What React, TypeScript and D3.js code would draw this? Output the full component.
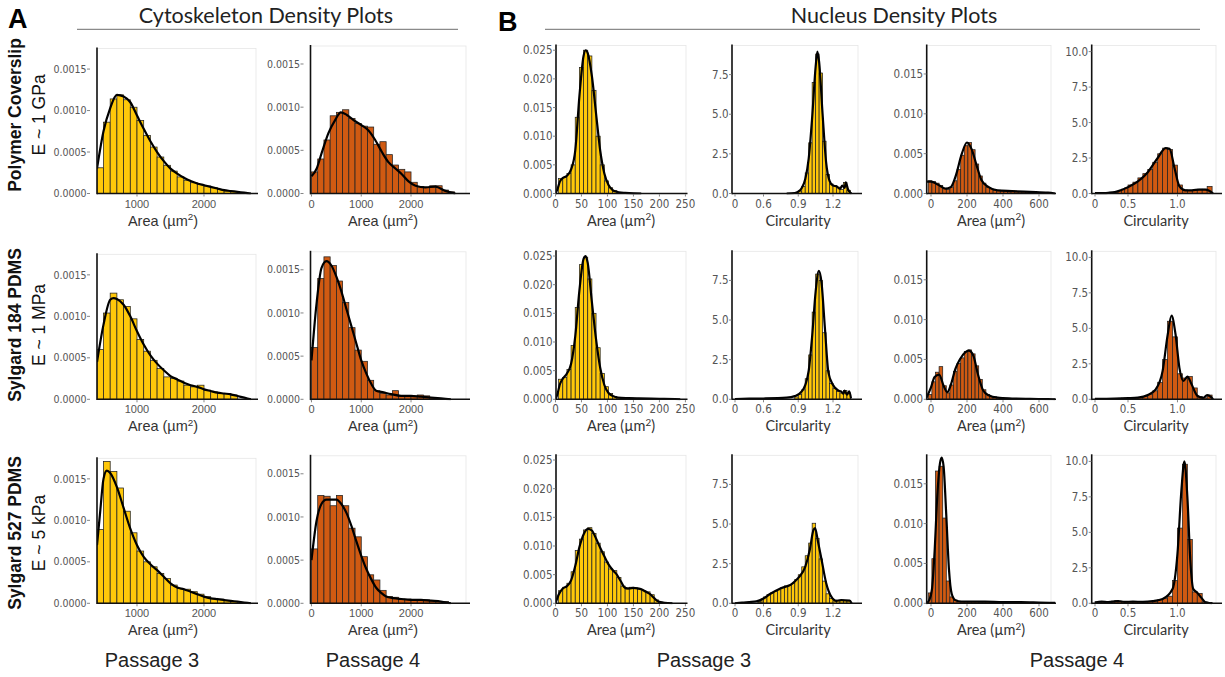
import React from "react";
import * as d3 from "d3";

// ---------- colours / fonts ----------
const YELLOW = "#FFC80A";
const ORANGE = "#D05A12";
const NARROW = "'Liberation Sans Narrow', 'DejaVu Sans Condensed', 'Liberation Sans', sans-serif";
const SANS = "'Liberation Sans', Arial, sans-serif";
const HUMAN = "Lato, 'Open Sans', sans-serif";

// ---------- labels ----------
const rowLabels = ["Polymer Coverslip", "Sylgard 184 PDMS", "Sylgard 527 PDMS"];
const rowModuli = ["E ~ 1 GPa", "E ~ 1 MPa", "E ~ 5 kPa"];
const passageLabels = ["Passage 3", "Passage 4", "Passage 3", "Passage 4"];

// ---------- tick values ----------
const cytoYTicks = [0, 0.0005, 0.001, 0.0015];
const cytoP3XTicks = [1000, 2000];
const cytoP4XTicks = [0, 1000, 2000];
const nucAreaP3YTicks = [0, 0.005, 0.01, 0.015, 0.02, 0.025];
const nucAreaP3XTicks = [0, 50, 100, 150, 200, 250];
const circP3YTicks = [0, 2.5, 5, 7.5];
const circP3XTicks = [0, 0.6, 0.9, 1.2];
const nucAreaP4YTicks = [0, 0.005, 0.01, 0.015];
const nucAreaP4XTicks = [0, 200, 400, 600];
const circP4YTicks = [0, 2.5, 5, 7.5, 10];
const circP4XTicks = [0, 0.5, 1.0];

// ---------- histogram bins ----------
const cytoP3BinStart = [400, 400, 400];
const cytoP3BinWidth = 100;
const cytoP4BinStart = [0, 0, 0];
const cytoP4BinWidth = 125;
const nucAreaP3BinStart = [6, 6, 6];
const nucAreaP3BinWidth = 8;
const circP3BinStart = [0.87, 0.87, 0.48];
const circP3BinWidth = 0.03;
const nucAreaP4BinStart = [-15, -15, -15];
const nucAreaP4BinWidth = 20;
const circP4BinStart = [0.2, 0, 0];
const circP4BinWidth = 0.05;

// ---------- Cytoskeleton area, passage 3 ----------
const cytoP3Row1 = [0.00031, 0.00086, 0.00114, 0.00119, 0.00113, 0.00104, 0.00088, 0.0007, 0.00056, 0.00044, 0.00034, 0.00027, 0.0002, 0.00016, 0.00013, 0.00011, 0.00009, 0.00007, 0.00005, 0.00003, 0.00002];
const cytoP3Row2 = [0.0006, 0.00104, 0.00128, 0.0012, 0.00112, 0.00097, 0.00072, 0.00058, 0.00047, 0.00037, 0.00027, 0.00025, 0.00022, 0.00017, 0.00015, 0.00017, 0.00011, 0.00009, 0.00007, 0.00007, 0.00005];
const cytoP3Row3 = [0.00089, 0.00171, 0.00159, 0.00139, 0.00111, 0.00085, 0.00063, 0.0005, 0.00044, 0.00036, 0.0003, 0.00022, 0.00018, 0.00017, 0.00014, 0.00011, 0.00008, 0.00006, 0.00005, 0.00003, 0.00002];
const cytoP3Dens1: [number, number][] = [[403, 0.0003], [500, 0.00075], [600, 0.00103], [700, 0.00119], [800, 0.00117], [900, 0.0011], [1000, 0.00094], [1100, 0.00078], [1200, 0.00063], [1300, 0.0005], [1400, 0.00039], [1500, 0.0003], [1600, 0.00024], [1700, 0.00019], [1800, 0.00015], [1900, 0.00012], [2000, 0.0001], [2100, 0.00008], [2200, 0.00006], [2300, 0.00004], [2400, 0.00003], [2500, 0.00002], [2600, 0.00001], [2700, 0]];
const cytoP3Dens2: [number, number][] = [[403, 0.00045], [500, 0.0009], [600, 0.0012], [650, 0.00122], [700, 0.00121], [800, 0.00114], [900, 0.001], [1000, 0.00082], [1100, 0.00066], [1200, 0.00053], [1300, 0.00043], [1400, 0.00035], [1500, 0.00028], [1600, 0.00024], [1700, 0.0002], [1800, 0.00017], [1900, 0.00015], [2000, 0.00012], [2100, 0.0001], [2200, 0.00008], [2300, 0.00007], [2400, 0.00006], [2500, 0.00004], [2600, 0.00002], [2700, 0]];
const cytoP3Dens3: [number, number][] = [[403, 0.0007], [450, 0.0011], [500, 0.0015], [550, 0.0016], [600, 0.00157], [700, 0.0014], [800, 0.00115], [900, 0.0009], [1000, 0.0007], [1100, 0.00056], [1200, 0.00047], [1300, 0.0004], [1400, 0.00032], [1500, 0.00024], [1600, 0.00019], [1700, 0.00017], [1800, 0.00014], [1900, 0.00011], [2000, 0.00008], [2100, 0.00006], [2200, 0.00005], [2300, 0.00004], [2400, 0.00003], [2500, 0.00002], [2600, 0.00001], [2700, 0]];

// ---------- Cytoskeleton area, passage 4 ----------
const cytoP4Row1 = [0.00025, 0.0004, 0.00062, 0.0009, 0.00094, 0.00097, 0.00087, 0.00081, 0.00078, 0.00077, 0.00057, 0.0006, 0.00045, 0.00033, 0.00028, 0.00025, 0.00013, 0.00008, 0.00007, 0.00009, 0.00009, 0.00004, 0.00002];
const cytoP4Row2 = [0.0006, 0.0014, 0.00165, 0.00155, 0.00137, 0.00112, 0.00083, 0.00057, 0.00044, 0.00022, 0.0001, 0.00007, 0.00005, 0.0001, 0.00004, 0.00003, 0.00003, 0.00005, 0.00004, 0.00002, 0.00001];
const cytoP4Row3 = [0.00063, 0.00125, 0.00124, 0.00113, 0.00125, 0.00113, 0.00087, 0.00077, 0.00054, 0.00033, 0.00027, 0.00015, 0.00008, 0.00007, 0.00005, 0.00005, 0.00004, 0.00004, 0.00004, 0.00003, 0.00002, 0.00002];
const cytoP4Dens1: [number, number][] = [[0, 0.0002], [105, 0.00029], [205, 0.00047], [340, 0.0007], [475, 0.00085], [590, 0.00094], [710, 0.00091], [845, 0.00085], [1010, 0.00079], [1145, 0.00073], [1280, 0.00062], [1415, 0.00048], [1550, 0.00036], [1685, 0.00029], [1820, 0.00022], [1950, 0.00014], [2090, 0.00009], [2290, 0.00007], [2490, 0.00008], [2690, 0.00003], [2890, 0]];
const cytoP4Dens2: [number, number][] = [[0, 0.00045], [100, 0.0011], [200, 0.00152], [300, 0.0016], [400, 0.00155], [500, 0.00142], [600, 0.00125], [700, 0.00105], [800, 0.00085], [900, 0.00065], [1000, 0.00045], [1100, 0.0003], [1200, 0.00018], [1300, 0.0001], [1450, 0.00008], [1600, 0.00006], [1800, 0.00004], [2000, 0.00004], [2200, 0.00003], [2400, 0.00002], [2600, 0.00001], [2800, 0]];
const cytoP4Dens3: [number, number][] = [[0, 0.0005], [100, 0.00095], [200, 0.00115], [300, 0.0012], [400, 0.0012], [500, 0.0012], [600, 0.00115], [700, 0.00105], [800, 0.0009], [900, 0.00072], [1000, 0.00055], [1100, 0.0004], [1200, 0.00028], [1300, 0.00018], [1400, 0.00012], [1500, 0.00008], [1650, 0.00006], [1800, 0.00005], [2000, 0.00004], [2200, 0.00004], [2400, 0.00003], [2600, 0.00002], [2800, 0]];

// ---------- Nucleus area, passage 3 ----------
const nucAreaP3Row1 = [0.0026, 0.0028, 0.0035, 0.005, 0.0133, 0.022, 0.025, 0.024, 0.018, 0.01, 0.005, 0.0022, 0.001, 0.0005, 0.0002, 0.0001];
const nucAreaP3Row2 = [0.0035, 0.0038, 0.0052, 0.0094, 0.016, 0.0235, 0.0248, 0.021, 0.015, 0.009, 0.0045, 0.0022, 0.001, 0.0005, 0.0003, 0.0002, 0.0002, 0.0002, 0.00015, 0.00015, 0.0001, 0.0001, 0.0001, 0.0001, 0.00008, 0.00008, 0.00005, 0.00005];
const nucAreaP3Row3 = [0.0022, 0.0028, 0.0035, 0.0055, 0.0092, 0.0112, 0.0128, 0.0132, 0.0122, 0.0105, 0.009, 0.0072, 0.006, 0.0057, 0.0045, 0.003, 0.0025, 0.0028, 0.0027, 0.0025, 0.0022, 0.002, 0.0015, 0.0006, 0.0002];
const nucAreaP3Dens1: [number, number][] = [[0, 0], [4, 0.0008], [8, 0.002], [14, 0.0027], [22, 0.0031], [30, 0.0042], [38, 0.0075], [46, 0.017], [54, 0.024], [58, 0.025], [62, 0.0245], [70, 0.0205], [78, 0.014], [86, 0.0075], [94, 0.0035], [102, 0.0015], [110, 0.0006], [118, 0.0003], [126, 0.00015], [134, 0.0001], [150, 0.00003], [165, 0]];
const nucAreaP3Dens2: [number, number][] = [[0, 0], [4, 0.001], [8, 0.0025], [14, 0.0036], [22, 0.0045], [30, 0.0062], [38, 0.011], [46, 0.019], [54, 0.0245], [58, 0.025], [62, 0.0238], [70, 0.017], [78, 0.0105], [86, 0.0055], [94, 0.0025], [102, 0.0011], [110, 0.0006], [120, 0.0003], [140, 0.0002], [160, 0.00015], [200, 0.0001], [230, 0.00005], [240, 0]];
const nucAreaP3Dens3: [number, number][] = [[0, 0], [6, 0.0015], [14, 0.0026], [22, 0.003], [30, 0.004], [38, 0.0065], [46, 0.0098], [54, 0.012], [62, 0.013], [70, 0.0127], [78, 0.0113], [86, 0.0097], [94, 0.0082], [102, 0.0068], [110, 0.0058], [118, 0.005], [126, 0.0038], [134, 0.0027], [142, 0.0026], [150, 0.0027], [158, 0.0026], [166, 0.0024], [174, 0.002], [182, 0.0016], [190, 0.0009], [198, 0.0003], [210, 0.0001], [225, 0]];

// ---------- Nucleus circularity, passage 3 ----------
const circP3Row1 = [0.05, 0.15, 0.45, 1.3, 3.2, 7.0, 8.8, 7.6, 3.3, 1.2, 0.6, 0.5, 0.4, 0.25, 0.7, 0.2];
const circP3Row2 = [0.15, 0.3, 0.6, 1.3, 2.8, 5.5, 7.9, 7.5, 4.2, 1.8, 1.0, 0.7, 0.5, 0.4, 0.55, 0.4];
const circP3Row3 = [0.1, 0.15, 0.2, 0.3, 0.4, 0.55, 0.65, 0.75, 0.85, 1.0, 1.1, 1.15, 1.25, 1.5, 1.8, 2.3, 3.0, 3.8, 5.05, 4.1, 2.8, 1.4, 0.6, 0.3, 0.15, 0.2, 0.2, 0.18, 0.18];
const circP3Dens1: [number, number][] = [[0.8, 0], [0.87, 0.03], [0.9, 0.12], [0.93, 0.35], [0.96, 0.9], [0.99, 2.2], [1.02, 4.8], [1.05, 8.0], [1.065, 8.95], [1.08, 8.3], [1.11, 5.0], [1.14, 2.0], [1.17, 0.8], [1.2, 0.5], [1.23, 0.45], [1.26, 0.3], [1.28, 0.5], [1.3, 0.35], [1.31, 0.7], [1.33, 0.25], [1.35, 0.05], [1.36, 0]];
const circP3Dens2: [number, number][] = [[0, 0.02], [0.3, 0.04], [0.6, 0.05], [0.8, 0.1], [0.87, 0.2], [0.93, 0.5], [0.96, 0.9], [0.99, 1.8], [1.02, 4.0], [1.05, 6.8], [1.078, 8.1], [1.1, 7.4], [1.13, 4.5], [1.16, 1.7], [1.2, 0.9], [1.245, 0.55], [1.27, 0.5], [1.29, 0.35], [1.3, 0.55], [1.32, 0.3], [1.34, 0.5], [1.355, 0.05]];
const circP3Dens3: [number, number][] = [[0, 0], [0.15, 0.05], [0.3, 0.08], [0.45, 0.12], [0.6, 0.3], [0.66, 0.6], [0.75, 0.95], [0.84, 1.2], [0.9, 1.6], [0.96, 2.3], [1.0, 3.4], [1.03, 4.6], [1.045, 4.75], [1.07, 3.9], [1.1, 2.8], [1.14, 1.3], [1.185, 0.42], [1.23, 0.15], [1.27, 0.2], [1.345, 0.17], [1.36, 0]];

// ---------- Nucleus area, passage 4 ----------
const nucAreaP4Row1 = [0.0016, 0.0015, 0.0013, 0.001, 0.0006, 0.0005, 0.0008, 0.0016, 0.003, 0.0048, 0.006, 0.0064, 0.0055, 0.0037, 0.0022, 0.0013, 0.0008, 0.0006, 0.0004, 0.0004, 0.0003, 0.0003, 0.0002, 0.0003, 0.0002, 0.0002, 0.0002, 0.0002, 0.00015, 0.0002, 0.0001, 0.0001, 0.00005];
const nucAreaP4Row2 = [0.0006, 0.0022, 0.0034, 0.0041, 0.0017, 0.0008, 0.0018, 0.0035, 0.0045, 0.0052, 0.006, 0.0062, 0.0057, 0.0042, 0.0025, 0.0012, 0.0006, 0.0003, 0.0003, 0.0002, 0.0002, 0.0001, 0.0001, 0.0001, 0.0001, 0.00008, 0.0001, 0.00005, 0.00005, 0.00005, 0.00004, 0.00003, 0.00002];
const nucAreaP4Row3 = [0.0013, 0.0056, 0.0166, 0.0172, 0.0107, 0.0028, 0.0008, 0.0004, 0.0002, 0.0002, 0.0002, 0.0002, 0.0002, 0.0002, 0.00015, 0.00015, 0.0002, 0.00015, 0.0002, 0.00015, 0.00015, 0.0001, 0.00015, 0.0001, 0.0001, 0.0001, 0.0001, 0.0001, 0.00008, 0.0001, 0.00008, 0.00005, 0.00005, 0.00005];
const nucAreaP4Dens1: [number, number][] = [[-25, 0.0015], [0, 0.0015], [40, 0.0011], [80, 0.0006], [110, 0.0008], [140, 0.0024], [170, 0.0049], [200, 0.0064], [225, 0.0056], [255, 0.0034], [280, 0.0017], [320, 0.0008], [370, 0.0004], [450, 0.0003], [550, 0.0002], [650, 0.0001], [690, 0]];
const nucAreaP4Dens2: [number, number][] = [[-25, 0.0002], [0, 0.0015], [20, 0.0028], [45, 0.0031], [70, 0.0017], [90, 0.0009], [110, 0.0018], [135, 0.0038], [160, 0.005], [190, 0.0059], [210, 0.0061], [235, 0.0055], [260, 0.0032], [290, 0.0011], [320, 0.0005], [370, 0.0002], [450, 0.0001], [550, 0.00005], [650, 0.00002], [690, 0]];
const nucAreaP4Dens3: [number, number][] = [[-25, 0], [-10, 0.0004], [5, 0.0017], [20, 0.0065], [35, 0.0135], [50, 0.0176], [59, 0.0183], [70, 0.0172], [85, 0.011], [100, 0.0042], [115, 0.0012], [135, 0.0004], [170, 0.0002], [300, 0.0002], [400, 0.00015], [500, 0.00015], [600, 0.0001], [690, 0.00005]];

// ---------- Nucleus circularity, passage 4 ----------
const circP4Row1 = [0.05, 0.08, 0.12, 0.2, 0.3, 0.4, 0.6, 0.8, 1.1, 1.4, 1.7, 2.2, 2.8, 3.2, 3.1, 2.0, 0.6, 0.25, 0.2, 0.25, 0.3, 0.3, 0.5];
const circP4Row2 = [0.03, 0.03, 0.04, 0.04, 0.05, 0.05, 0.06, 0.07, 0.08, 0.08, 0.1, 0.12, 0.1, 0.2, 0.35, 0.6, 1.2, 2.8, 5.5, 4.4, 1.8, 1.5, 1.6, 0.8, 0.2, 0.1, 0.3];
const circP4Row3 = [0.1, 0.08, 0.1, 0.12, 0.1, 0.15, 0.2, 0.15, 0.1, 0.12, 0.1, 0.1, 0.12, 0.1, 0.12, 0.15, 0.25, 0.35, 0.5, 1.6, 5.3, 9.8, 4.5, 0.8, 0.7, 0.1, 0.05];
const circP4Dens1: [number, number][] = [[0, 0.02], [0.1, 0.03], [0.2, 0.05], [0.3, 0.1], [0.4, 0.25], [0.5, 0.45], [0.6, 0.85], [0.7, 1.5], [0.8, 2.5], [0.88, 3.2], [0.92, 3.15], [0.97, 1.8], [1.02, 0.5], [1.08, 0.22], [1.15, 0.22], [1.22, 0.28], [1.28, 0.27], [1.32, 0.2], [1.36, 0]];
const circP4Dens2: [number, number][] = [[0, 0.03], [0.3, 0.05], [0.5, 0.08], [0.6, 0.12], [0.7, 0.3], [0.78, 0.7], [0.85, 2.0], [0.9, 4.5], [0.94, 5.9], [0.98, 4.6], [1.02, 2.2], [1.06, 1.3], [1.1, 1.6], [1.14, 1.1], [1.2, 0.25], [1.26, 0.1], [1.3, 0.3], [1.34, 0.15], [1.36, 0]];
const circP4Dens3: [number, number][] = [[0, 0.05], [0.1, 0.12], [0.2, 0.08], [0.35, 0.15], [0.45, 0.1], [0.55, 0.12], [0.65, 0.1], [0.75, 0.15], [0.85, 0.3], [0.95, 1.0], [1.0, 3.5], [1.04, 8.0], [1.07, 10.0], [1.1, 7.5], [1.13, 3.0], [1.16, 1.0], [1.2, 0.75], [1.24, 0.4], [1.28, 0.08], [1.32, 0.02], [1.35, 0]];

// ---------- layout ----------
const ROW_BASE = [193.5, 399.3, 603.3];
const ROW_CENTER = [115, 325, 533];

type ColCfg = {
  key: string;
  x0: number; xEnd: number; bgRight: number; height: number;
  xDomain: number[]; xRange: number[];
  yMax: number; yTicks: number[]; yFmt: (d: number) => string;
  xTicks: number[]; xFmt: (d: number) => string;
  title: "area" | "circ"; titleX: number; group: "A" | "B";
  color: string;
  bars: number[][]; binStart: number[]; binWidth: number;
  dens: [number, number][][];
};

const fmtCirc = (d: number) => (d === 0 ? "0" : d.toFixed(1));

const columns: ColCfg[] = [
  {
    key: "cp3", x0: 97, xEnd: 258, bgRight: 256, height: 146,
    xDomain: [403, 2806], xRange: [97, 258],
    yMax: 0.00176, yTicks: cytoYTicks, yFmt: (d) => d.toFixed(4),
    xTicks: cytoP3XTicks, xFmt: (d) => String(d),
    title: "area", titleX: 163, group: "A", color: YELLOW,
    bars: [cytoP3Row1, cytoP3Row2, cytoP3Row3], binStart: cytoP3BinStart, binWidth: cytoP3BinWidth,
    dens: [cytoP3Dens1, cytoP3Dens2, cytoP3Dens3],
  },
  {
    key: "cp4", x0: 310.5, xEnd: 470, bgRight: 466, height: 148.5,
    xDomain: [-20, 3185], xRange: [310.5, 470],
    yMax: 0.00172, yTicks: cytoYTicks, yFmt: (d) => d.toFixed(4),
    xTicks: cytoP4XTicks, xFmt: (d) => String(d),
    title: "area", titleX: 383, group: "A", color: ORANGE,
    bars: [cytoP4Row1, cytoP4Row2, cytoP4Row3], binStart: cytoP4BinStart, binWidth: cytoP4BinWidth,
    dens: [cytoP4Dens1, cytoP4Dens2, cytoP4Dens3],
  },
  {
    key: "na3", x0: 556, xEnd: 687.5, bgRight: 686, height: 149,
    xDomain: [0, 254], xRange: [555.5, 687.5],
    yMax: 0.026, yTicks: nucAreaP3YTicks, yFmt: (d) => d.toFixed(3),
    xTicks: nucAreaP3XTicks, xFmt: (d) => String(d),
    title: "area", titleX: 621, group: "B", color: YELLOW,
    bars: [nucAreaP3Row1, nucAreaP3Row2, nucAreaP3Row3], binStart: nucAreaP3BinStart, binWidth: nucAreaP3BinWidth,
    dens: [nucAreaP3Dens1, nucAreaP3Dens2, nucAreaP3Dens3],
  },
  {
    key: "ci3", x0: 732, xEnd: 862, bgRight: 858, height: 149,
    xDomain: [0, 0.6, 1.45], xRange: [735, 763.5, 862],
    yMax: 9.4, yTicks: circP3YTicks, yFmt: (d) => d.toFixed(1),
    xTicks: circP3XTicks, xFmt: fmtCirc,
    title: "circ", titleX: 798, group: "B", color: YELLOW,
    bars: [circP3Row1, circP3Row2, circP3Row3], binStart: circP3BinStart, binWidth: circP3BinWidth,
    dens: [circP3Dens1, circP3Dens2, circP3Dens3],
  },
  {
    key: "na4", x0: 926.7, xEnd: 1056, bgRight: 1051, height: 149,
    xDomain: [0, 600], xRange: [931, 1039],
    yMax: 0.0187, yTicks: nucAreaP4YTicks, yFmt: (d) => d.toFixed(3),
    xTicks: nucAreaP4XTicks, xFmt: (d) => String(d),
    title: "area", titleX: 991, group: "B", color: ORANGE,
    bars: [nucAreaP4Row1, nucAreaP4Row2, nucAreaP4Row3], binStart: nucAreaP4BinStart, binWidth: nucAreaP4BinWidth,
    dens: [nucAreaP4Dens1, nucAreaP4Dens2, nucAreaP4Dens3],
  },
  {
    key: "ci4", x0: 1091.7, xEnd: 1222, bgRight: 1216, height: 149,
    xDomain: [0, 0.5, 1.45], xRange: [1095, 1128, 1222],
    yMax: 10.5, yTicks: circP4YTicks, yFmt: (d) => d.toFixed(1),
    xTicks: circP4XTicks, xFmt: fmtCirc,
    title: "circ", titleX: 1156, group: "B", color: ORANGE,
    bars: [circP4Row1, circP4Row2, circP4Row3], binStart: circP4BinStart, binWidth: circP4BinWidth,
    dens: [circP4Dens1, circP4Dens2, circP4Dens3],
  },
];

function AxisTitle({ cfg, base }: { cfg: ColCfg; base: number }) {
  const isA = cfg.group === "A";
  const fs = isA ? 14.5 : 14.5;
  const family = isA ? SANS : HUMAN;
  const yb = base + 32;
  if (cfg.title === "circ") {
    return (
      <text x={cfg.titleX} y={yb} textAnchor="middle" fontFamily={family} fontSize={fs} fill="#333">
        Circularity
      </text>
    );
  }
  return (
    <text x={cfg.titleX} y={yb} textAnchor="middle" fontFamily={family} fontSize={fs} fill="#333">
      Area (µm
      <tspan fontSize={fs * 0.68} dy={-5.5}>2</tspan>
      <tspan dy={5.5}>)</tspan>
    </text>
  );
}

function Panel({ cfg, row }: { cfg: ColCfg; row: number }) {
  const base = ROW_BASE[row];
  const top = base - cfg.height;
  const x = d3.scaleLinear().domain(cfg.xDomain).range(cfg.xRange);
  const y = d3.scaleLinear().domain([0, cfg.yMax]).range([base, top]);
  const bars = cfg.bars[row];
  const start = cfg.binStart[row];
  const w = cfg.binWidth;
  const line = d3
    .line<[number, number]>()
    .x((d) => x(d[0]))
    .y((d) => y(d[1]))
    .curve(d3.curveMonotoneX);
  const clipId = `clip-${cfg.key}-${row}`;
  const isA = cfg.group === "A";
  const yTickOff = isA ? 7 : 0;
  const yFont = isA ? 10.5 : 11.5;
  const xFamily = isA ? SANS : NARROW;
  const xFont = isA ? 11 : 11.5;

  return (
    <g>
      <defs>
        <clipPath id={clipId}>
          <rect x={cfg.x0} y={top - 2} width={cfg.xEnd - cfg.x0} height={cfg.height + 3} />
        </clipPath>
      </defs>
      <rect
        x={cfg.x0}
        y={top + 1}
        width={cfg.bgRight - cfg.x0}
        height={base - top - 1}
        fill="#fff"
        stroke="#e6e6e6"
        strokeWidth={0.8}
      />
      <g clipPath={`url(#${clipId})`}>
        {bars.map((v, i) => {
          const a = Math.max(x(start + i * w), cfg.x0);
          const b = Math.min(x(start + (i + 1) * w), cfg.xEnd);
          if (b <= a) return null;
          return (
            <rect
              key={i}
              x={a}
              y={y(v)}
              width={b - a}
              height={base - y(v)}
              fill={cfg.color}
              stroke="#222"
              strokeWidth={0.75}
            />
          );
        })}
        <path d={line(cfg.dens[row]) || ""} fill="none" stroke="#000" strokeWidth={2.2} strokeLinejoin="round" />
      </g>
      <line x1={cfg.x0} x2={cfg.x0} y1={top} y2={base + 0.8} stroke="#111" strokeWidth={1.6} />
      {cfg.yTicks.map((t) => (
        <g key={`y${t}`}>
          <line x1={cfg.x0 - yTickOff - 3} x2={cfg.x0 - yTickOff} y1={y(t)} y2={y(t)} stroke="#666" strokeWidth={0.8} />
          <text
            x={cfg.x0 - yTickOff - 3.5}
            y={y(t)}
            dy="0.35em"
            textAnchor="end"
            fontFamily={NARROW}
            fontSize={yFont}
            fill="#555"
          >
            {cfg.yFmt(t)}
          </text>
        </g>
      ))}
      <line x1={cfg.x0} x2={cfg.xEnd} y1={base} y2={base} stroke="#111" strokeWidth={1.6} />
      {cfg.xTicks.map((t) => (
        <g key={`x${t}`}>
          <line x1={x(t)} x2={x(t)} y1={base + 0.8} y2={base + 3} stroke="#666" strokeWidth={0.8} />
          <text x={x(t)} y={base + 14} textAnchor="middle" fontFamily={xFamily} fontSize={xFont} fill="#555">
            {cfg.xFmt(t)}
          </text>
        </g>
      ))}
      <AxisTitle cfg={cfg} base={base} />
    </g>
  );
}

export default function App() {
  const passageX = [152, 373, 704, 1077];
  return (
    <svg
      width={1225}
      height={677}
      viewBox="0 0 1225 677"
      style={{ position: "absolute", left: 0, top: 0, background: "#fff" }}
    >
      <rect x={0} y={0} width={1225} height={677} fill="#fff" />
      <text x={8} y={28} fontFamily={SANS} fontWeight="bold" fontSize={27} fill="#000">A</text>
      <text x={498} y={31} fontFamily={SANS} fontWeight="bold" fontSize={27} fill="#000">B</text>
      <text x={266} y={22.5} textAnchor="middle" fontFamily={HUMAN} fontSize={21.5} fill="#222">
        Cytoskeleton Density Plots
      </text>
      <line x1={77} x2={458} y1={29.3} y2={29.3} stroke="#8a8a8a" strokeWidth={1.2} />
      <text x={894} y={22.5} textAnchor="middle" fontFamily={HUMAN} fontSize={21.5} fill="#222">
        Nucleus Density Plots
      </text>
      <line x1={545} x2={1200} y1={29.3} y2={29.3} stroke="#8a8a8a" strokeWidth={1.2} />

      {rowLabels.map((lab, i) => (
        <g key={lab}>
          <text
            transform={`translate(21, ${ROW_CENTER[i]}) rotate(-90)`}
            textAnchor="middle"
            fontFamily={SANS}
            fontWeight="bold"
            fontSize={17.5}
            fill="#111"
          >
            {lab}
          </text>
          <text
            transform={`translate(45, ${ROW_CENTER[i]}) rotate(-90)`}
            textAnchor="middle"
            fontFamily={SANS}
            fontSize={17.5}
            fill="#111"
          >
            {rowModuli[i]}
          </text>
        </g>
      ))}

      {columns.map((cfg) =>
        [0, 1, 2].map((r) => <Panel key={`${cfg.key}-${r}`} cfg={cfg} row={r} />)
      )}

      {passageLabels.map((p, i) => (
        <text key={i} x={passageX[i]} y={667} textAnchor="middle" fontFamily={SANS} fontSize={20} fill="#222">
          {p}
        </text>
      ))}
    </svg>
  );
}
